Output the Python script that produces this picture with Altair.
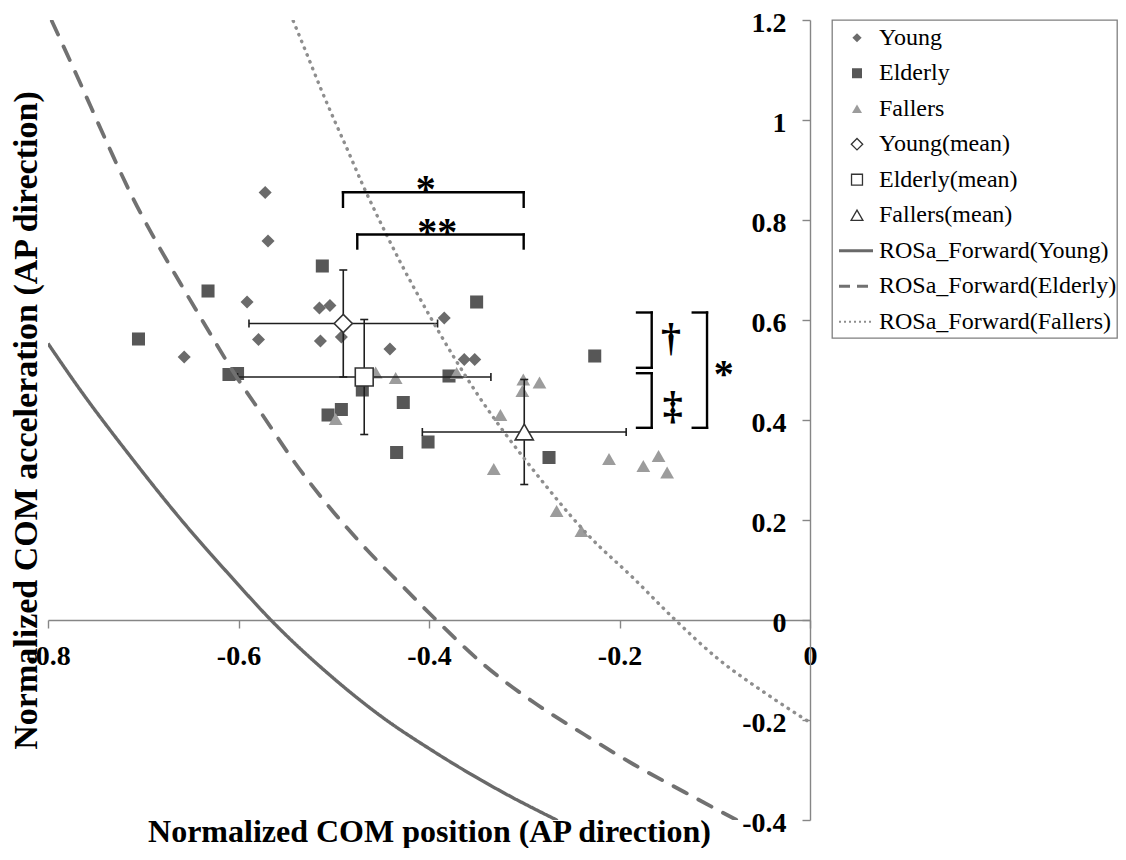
import altair as alt
import pandas as pd

# ---------------- data ----------------
young_x = [-0.572, -0.569, -0.591, -0.515, -0.504, -0.579, -0.657, -0.514, -0.492, -0.441, -0.384, -0.363, -0.352]
young_y = [0.855, 0.758, 0.636, 0.624, 0.629, 0.561, 0.526, 0.558, 0.566, 0.542, 0.604, 0.521, 0.521]

elderly_x = [-0.512, -0.632, -0.705, -0.610, -0.601, -0.470, -0.427, -0.506, -0.492, -0.434, -0.401, -0.350, -0.226, -0.379, -0.274]
elderly_y = [0.708, 0.658, 0.562, 0.491, 0.493, 0.460, 0.435, 0.410, 0.421, 0.335, 0.356, 0.636, 0.528, 0.488, 0.325]

fallers_x = [-0.456, -0.435, -0.498, -0.371, -0.301, -0.284, -0.302, -0.325, -0.332, -0.211, -0.175, -0.159, -0.150, -0.266, -0.240]
fallers_y = [0.495, 0.484, 0.402, 0.494, 0.481, 0.475, 0.458, 0.410, 0.302, 0.322, 0.308, 0.328, 0.295, 0.218, 0.178]

mean_groups = ["Young", "Elderly", "Fallers"]
mean_x = [-0.490, -0.468, -0.300]
mean_y = [0.593, 0.486, 0.376]
sd_x = [0.099, 0.133, 0.107]
sd_y = [0.107, 0.115, 0.105]

ros_young_x = [-0.800, -0.765, -0.713, -0.660, -0.608, -0.566, -0.503, -0.450, -0.395, -0.324, -0.265]
ros_young_y = [0.553, 0.457, 0.326, 0.200, 0.087, 0.000, -0.112, -0.193, -0.263, -0.343, -0.401]

ros_elderly_x = [-0.796, -0.770, -0.737, -0.713, -0.688, -0.660, -0.632, -0.604, -0.573, -0.541, -0.503,
                 -0.465, -0.429, -0.394, -0.342, -0.289, -0.237, -0.185, -0.132, -0.080, -0.076]
ros_elderly_y = [1.198, 1.090, 0.950, 0.852, 0.762, 0.670, 0.580, 0.492, 0.405, 0.315, 0.222,
                 0.140, 0.070, 0.003, -0.090, -0.166, -0.229, -0.289, -0.344, -0.397, -0.401]

ros_fallers_x = [-0.5425, -0.527, -0.513, -0.499, -0.485, -0.470, -0.456, -0.445, -0.428, -0.401, -0.373,
                 -0.349, -0.324, -0.300, -0.275, -0.251, -0.233, -0.185, -0.143, -0.097, -0.044, 0.0]
ros_fallers_y = [1.198, 1.126, 1.060, 0.998, 0.938, 0.872, 0.815, 0.772, 0.708, 0.614, 0.523,
                 0.451, 0.383, 0.323, 0.263, 0.208, 0.170, 0.083, 0.003, -0.077, -0.150, -0.205]

# significance brackets (segments in data units)
bracket_x1 = [-0.4903, -0.4903, -0.3006, -0.4753, -0.4753, -0.3006,
              -0.1662, -0.1816, -0.1816, -0.1662, -0.1816, -0.1816,
              -0.1081, -0.1231, -0.1231]
bracket_y1 = [0.8556, 0.8556, 0.8556, 0.771, 0.771, 0.771,
              0.615, 0.615, 0.5044, 0.4936, 0.4936, 0.3844,
              0.615, 0.615, 0.3844]
bracket_x2 = [-0.3006, -0.4903, -0.3006, -0.3006, -0.4753, -0.3006,
              -0.1662, -0.1662, -0.1662, -0.1662, -0.1662, -0.1662,
              -0.1081, -0.1081, -0.1081]
bracket_y2 = [0.8556, 0.8264, 0.8264, 0.771, 0.743, 0.743,
              0.5044, 0.615, 0.5044, 0.3844, 0.4936, 0.3844,
              0.3844, 0.615, 0.3844]

star_text = ["*", "**", "*"]
star_x = [-0.4035, -0.3913, -0.0905]
star_y = [0.836, 0.751, 0.4664]
dagger_text = ["†", "‡"]
dagger_x = [-0.146, -0.144]
dagger_y = [0.539, 0.4016]

x_ticks = [-0.8, -0.6, -0.4, -0.2, 0.0]
y_ticks = [-0.4, -0.2, 0.0, 0.2, 0.4, 0.6, 0.8, 1.0, 1.2]

legend_items = ["Young", "Elderly", "Fallers", "Young(mean)", "Elderly(mean)", "Fallers(mean)",
                "ROSa_Forward(Young)", "ROSa_Forward(Elderly)", "ROSa_Forward(Fallers)"]

# ---------------- styling ----------------
FONT = "Liberation Serif, Tinos, Times New Roman, Times, DejaVu Serif, serif"
PLOT_W, PLOT_H = 762, 800
LEG_W, LEG_H = 285, 318
X_DOMAIN = [-0.8, 0.0]
Y_DOMAIN = [-0.4, 1.2]
AXIS_GRAY = "#868686"
C_YOUNG = "#6b6b6b"
C_ELDERLY = "#575757"
C_FALLERS = "#9c9c9c"
C_MEAN_STROKE = "#333333"

xs = alt.Scale(domain=X_DOMAIN, nice=False, zero=False)
ys = alt.Scale(domain=Y_DOMAIN, nice=False, zero=False)
label_expr = "toString(round(datum.value*10)/10)"

x_off = -PLOT_H * (0 - Y_DOMAIN[0]) / (Y_DOMAIN[1] - Y_DOMAIN[0])

x_axis = alt.Axis(values=x_ticks, orient="bottom", offset=x_off, grid=False,
                  domainColor=AXIS_GRAY, domainWidth=1.4, tickColor=AXIS_GRAY, tickWidth=1.4,
                  tickSize=8, labelPadding=14, labelFont=FONT, labelFontSize=28,
                  labelFontWeight="bold", labelColor="black", labelExpr=label_expr,
                  labelFlush=False, labelOverlap=False,
                  title="Normalized COM position (AP direction)", titleFont=FONT,
                  titleFontSize=32, titleFontWeight="bold", titleColor="black",
                  titleBaseline="alphabetic", titleY=221)
y_axis = alt.Axis(values=y_ticks, orient="left", offset=-PLOT_W, grid=False,
                  domainColor=AXIS_GRAY, domainWidth=1.4, tickColor=AXIS_GRAY, tickWidth=1.4,
                  tickSize=8, labelPadding=16, labelOffset=3, labelFont=FONT, labelFontSize=28,
                  labelFontWeight="bold", labelColor="black", labelExpr=label_expr,
                  labelOverlap=False,
                  title="Normalized COM acceleration (AP direction)", titleFont=FONT,
                  titleFontSize=34, titleFontWeight="bold", titleColor="black",
                  titleBaseline="alphabetic", titleAngle=270, titleX=-774)


def X(f):
    return alt.X(f, type="quantitative", scale=xs, axis=x_axis)


def Y(f):
    return alt.Y(f, type="quantitative", scale=ys, axis=y_axis)


young_df = pd.DataFrame({"x": young_x, "y": young_y})
elderly_df = pd.DataFrame({"x": elderly_x, "y": elderly_y})
fallers_df = pd.DataFrame({"x": fallers_x, "y": fallers_y})

means_df = pd.DataFrame({"group": mean_groups, "mx": mean_x, "my": mean_y, "ex": sd_x, "ey": sd_y})
means_df["xlo"] = means_df["mx"] - means_df["ex"]
means_df["xhi"] = means_df["mx"] + means_df["ex"]
means_df["ylo"] = means_df["my"] - means_df["ey"]
means_df["yhi"] = means_df["my"] + means_df["ey"]

vcaps = pd.DataFrame({"cx": list(means_df["xlo"]) + list(means_df["xhi"]),
                      "cy": list(means_df["my"]) * 2})
hcaps = pd.DataFrame({"cx": list(means_df["mx"]) * 2,
                      "cy": list(means_df["ylo"]) + list(means_df["yhi"])})

curves = pd.concat([
    pd.DataFrame({"group": "Young", "x": ros_young_x, "y": ros_young_y, "i": range(len(ros_young_x))}),
    pd.DataFrame({"group": "Elderly", "x": ros_elderly_x, "y": ros_elderly_y, "i": range(len(ros_elderly_x))}),
    pd.DataFrame({"group": "Fallers", "x": ros_fallers_x, "y": ros_fallers_y, "i": range(len(ros_fallers_x))}),
])

brackets_df = pd.DataFrame({"x1": bracket_x1, "y1": bracket_y1, "x2": bracket_x2, "y2": bracket_y2})
star_df = pd.DataFrame({"t": star_text, "x": star_x, "y": star_y})
dagger_df = pd.DataFrame({"t": dagger_text, "x": dagger_x, "y": dagger_y})


def points(df, shape, color, size):
    return alt.Chart(df).mark_point(shape=shape, filled=True, color=color, size=size,
                                    opacity=1, strokeWidth=0).encode(x=X("x"), y=Y("y"))


def mean_point(group, shape, size):
    return alt.Chart(means_df).transform_filter(alt.datum.group == group).mark_point(
        shape=shape, filled=True, fill="white", stroke=C_MEAN_STROKE, strokeWidth=1.6,
        size=size, opacity=1).encode(x=X("mx"), y=Y("my"))


def curve(group, color, width, dash, cap):
    return alt.Chart(curves).transform_filter(alt.datum.group == group).mark_line(
        color=color, strokeWidth=width, strokeDash=dash, strokeCap=cap, clip=True,
        interpolate="monotone").encode(x=X("x"), y=Y("y"), order="i:Q")


ERR = "#1e1e1e"
layers = [
    points(young_df, "diamond", C_YOUNG, 170),
    points(elderly_df, "square", C_ELDERLY, 170),
    points(fallers_df, "triangle-up", C_FALLERS, 190),
    alt.Chart(means_df).mark_rule(color=ERR, strokeWidth=1.6).encode(x=X("xlo"), x2="xhi", y=Y("my")),
    alt.Chart(means_df).mark_rule(color=ERR, strokeWidth=1.6).encode(x=X("mx"), y=Y("ylo"), y2="yhi"),
    alt.Chart(vcaps).mark_tick(orient="vertical", size=8, thickness=1.6, color=ERR, opacity=1).encode(x=X("cx"), y=Y("cy")),
    alt.Chart(hcaps).mark_tick(orient="horizontal", size=8, thickness=1.6, color=ERR, opacity=1).encode(x=X("cx"), y=Y("cy")),
    mean_point("Young", "diamond", 330),
    mean_point("Elderly", "square", 320),
    mean_point("Fallers", "triangle-up", 330),
    curve("Young", "#696969", 3.4, [1, 0], "butt"),
    curve("Elderly", "#717171", 3.8, [15, 13], "round"),
    curve("Fallers", "#8e8e8e", 3.4, [0.5, 6.8], "round"),
    alt.Chart(brackets_df).mark_rule(color="black", strokeWidth=2.4, strokeCap="square").encode(
        x=X("x1"), y=Y("y1"), x2="x2", y2="y2"),
    alt.Chart(star_df).mark_text(font=FONT, fontSize=40, fontWeight="bold", baseline="alphabetic",
                                 align="center", color="black").encode(x=X("x"), y=Y("y"), text="t:N"),
    alt.Chart(dagger_df).mark_text(font=FONT, fontSize=40, fontWeight="bold", baseline="alphabetic",
                                   align="center", color="black").encode(x=X("x"), y=Y("y"), text="t:N"),
]

main = alt.layer(*layers).properties(
    width=PLOT_W, height=PLOT_H, view=alt.ViewBackground(stroke="transparent"))

# ---------------- legend panel ----------------
leg_df = pd.DataFrame({"item": legend_items, "row": list(range(len(legend_items)))})
LY = alt.Y("row:Q", scale=alt.Scale(domain=[-0.50, 8.46], reverse=True,
                                    nice=False, zero=False), axis=None)


def leg_point(item, shape, size, fill, stroke, sw):
    return alt.Chart(leg_df).transform_filter(alt.datum.item == item).mark_point(
        shape=shape, filled=True, fill=fill, stroke=stroke, strokeWidth=sw, size=size,
        opacity=1).encode(x=alt.value(25), y=LY)


def leg_line(item, color, width, dash):
    return alt.Chart(leg_df).transform_filter(alt.datum.item == item).mark_rule(
        color=color, strokeWidth=width, strokeDash=dash).encode(
        x=alt.value(7), x2=alt.value(41), y=LY)


leg_layers = [
    leg_point("Young", "diamond", 85, C_YOUNG, "transparent", 0),
    leg_point("Elderly", "square", 100, C_ELDERLY, "transparent", 0),
    leg_point("Fallers", "triangle-up", 100, C_FALLERS, "transparent", 0),
    leg_point("Young(mean)", "diamond", 130, "white", C_MEAN_STROKE, 1.3),
    leg_point("Elderly(mean)", "square", 120, "white", C_MEAN_STROKE, 1.3),
    leg_point("Fallers(mean)", "triangle-up", 140, "white", C_MEAN_STROKE, 1.3),
    leg_line("ROSa_Forward(Young)", "#696969", 3, [1, 0]),
    leg_line("ROSa_Forward(Elderly)", "#717171", 3, [11, 7]),
    leg_line("ROSa_Forward(Fallers)", "#8e8e8e", 2, [2, 3]),
    alt.Chart(leg_df).mark_text(font=FONT, fontSize=24, align="left", baseline="middle",
                                color="black").encode(x=alt.value(47), y=LY, text="item:N"),
]

legend = alt.layer(*leg_layers).properties(
    width=LEG_W, height=LEG_H, view=alt.ViewBackground(stroke="#7f7f7f", strokeWidth=1.3))

chart = alt.hconcat(main, legend, spacing=22, bounds="flush").properties(
    padding={"left": 0, "top": 0, "right": 0, "bottom": 0}
).configure(font=FONT)

chart.save("out.html", embed_options={"renderer": "svg", "actions": False})
